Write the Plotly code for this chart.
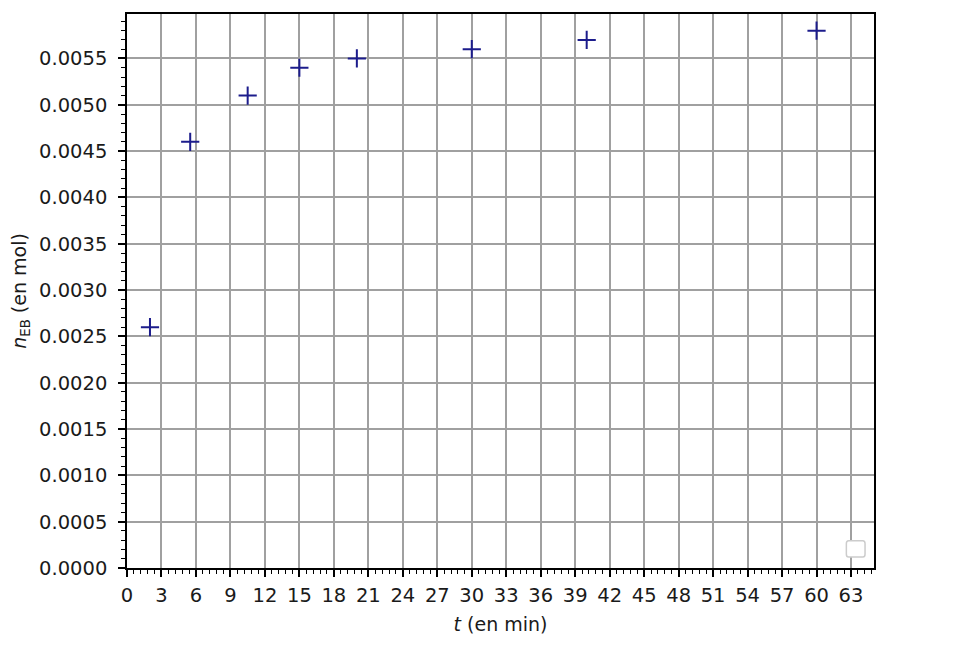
import plotly.graph_objs as go

# temps (min) et quantite de matiere d'EB (mol)
temps = [2, 5.5, 10.5, 15, 20, 30, 40, 60]
n_eb = [0.0026, 0.0046, 0.0051, 0.0054, 0.0055, 0.0056, 0.0057, 0.0058]

x_range = [0, 65]
y_range = [0, 0.00598]

font_family = "DejaVu Sans"
grid_color = "#a0a0a0"


def get_axis(title, rng, dtick, minor_dtick, standoff, label_standoff, fmt=None):
    axis = dict(
        title=dict(text=title, font=dict(size=19, color="#1a1a1a"), standoff=standoff),
        range=rng,
        dtick=dtick,
        tick0=0,
        showgrid=True,
        gridcolor=grid_color,
        gridwidth=1.5,
        zeroline=False,
        showline=True,
        linecolor="black",
        linewidth=1.5,
        mirror=True,
        ticks="outside",
        ticklen=7,
        tickwidth=1.5,
        tickcolor="black",
        ticklabelstandoff=label_standoff,
        tickfont=dict(size=19.5, color="#1a1a1a"),
        minor=dict(dtick=minor_dtick, tick0=0, ticks="outside", ticklen=4,
                   tickwidth=1.2, tickcolor="black", showgrid=False),
    )
    if fmt:
        axis["tickformat"] = fmt
    return axis


figure = go.Figure()
figure.add_trace(go.Scatter(
    x=temps, y=n_eb, mode="markers",
    marker=dict(symbol="cross-thin", size=13, line=dict(color="#1c1c8c", width=2)),
    showlegend=False,
))

# legende vide (petit cadre arrondi en bas a droite)
figure.add_shape(
    type="path", xref="paper", yref="paper",
    path="M 0.966 0.020 L 0.985 0.020 Q 0.988 0.020 0.988 0.025 L 0.988 0.044 "
         "Q 0.988 0.049 0.985 0.049 L 0.966 0.049 Q 0.963 0.049 0.963 0.044 "
         "L 0.963 0.025 Q 0.963 0.020 0.966 0.020 Z",
    line=dict(color="#cccccc", width=1.5), fillcolor="white", layer="above",
)

# la page ajoute 8 px de marge au corps : on decale la zone de trace
figure.update_layout(
    width=976, height=650,
    margin=dict(l=118, r=110, t=4, b=90),
    paper_bgcolor="white", plot_bgcolor="white",
    font=dict(family=font_family, size=19, color="#1a1a1a"),
    xaxis=get_axis("<i>t</i> (en min)", x_range, 3, 0.6, 12, 2),
    yaxis=get_axis("<i>n</i><sub>EB</sub> (en mol)", y_range, 0.0005, 0.0001, 14, 7, ".4f"),
)

figure.write_html("out.html")
